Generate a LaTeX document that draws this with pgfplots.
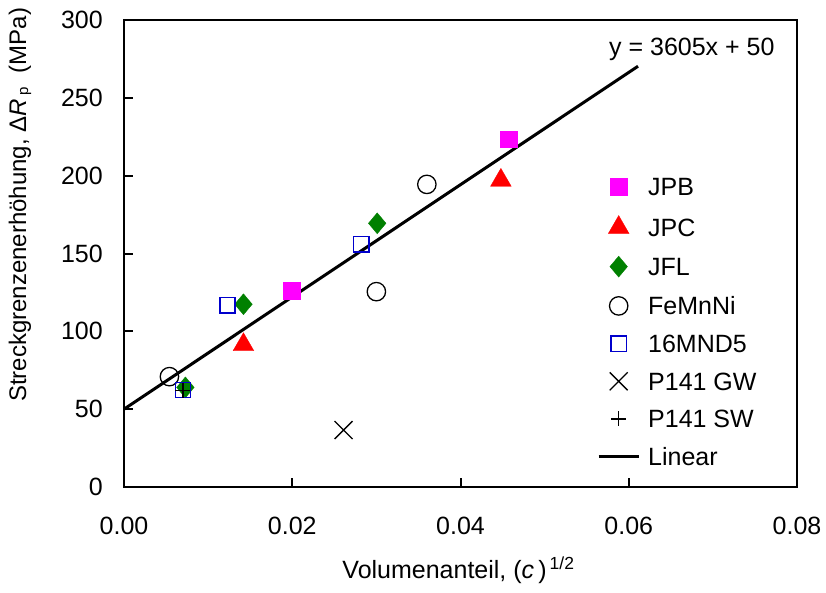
\documentclass[border=0pt]{standalone}
\usepackage{pgfplots}
\pgfplotsset{compat=1.18}
\usepackage{fontspec}
\setmainfont{Liberation Sans}

\definecolor{jpb}{RGB}{255,0,255}
\definecolor{jpc}{RGB}{255,0,0}
\definecolor{jfl}{RGB}{0,128,0}
\definecolor{mnd}{RGB}{0,0,204}

\begin{document}
\begin{tikzpicture}
\useasboundingbox (-124pt,-105pt) rectangle (702pt,487pt);
\begin{axis}[
  width=673pt, height=467pt, scale only axis,
  xmin=0, xmax=0.08, ymin=0, ymax=300,
  scaled x ticks=false, scaled y ticks=false,
  xtick={0,0.02,0.04,0.06,0.08},
  xticklabels={0.00,0.02,0.04,0.06,0.08},
  ytick={0,50,100,150,200,250,300},
  yticklabels={0,50,100,150,200,250,300},
  tick align=inside, tick pos=left,
  major tick length=9pt,
  axis line style={line width=2.6pt},
  every tick/.style={line width=2pt, black},
  ticklabel style={font=\fontsize{25}{25}\selectfont},
  xticklabel style={inner sep=0pt, anchor=north, yshift=-30pt},
  yticklabel style={inner sep=0pt, anchor=east, xshift=-21pt},
  every axis x label/.style={at={(axis description cs:0.497,-0.195)}, anchor=base},
  every axis y label/.style={at={(axis description cs:-0.1545,0.604)}, anchor=center, rotate=90},
  xlabel={\fontsize{25}{25}\selectfont Volumenanteil, (\textit{c}\,)\textsuperscript{\,1/2}},
  ylabel={\fontsize{24}{24}\selectfont Streckgrenzenerhöhung, Δ\textit{R}\,\raisebox{-2pt}{\fontsize{15}{15}\selectfont p}\ \ (MPa)},
  legend image code/.code={\draw[mark repeat=2,mark phase=2,#1] plot coordinates {(0pt,0pt) (20pt,0pt) (40pt,0pt)};},
  legend style={at={(axis description cs:0.7028,0.6623)}, anchor=north west,
    draw=none, fill=none, inner sep=0pt, row sep=19.6pt,
    font=\fontsize{25}{25}\selectfont,
    nodes={inner sep=0pt, text height=18pt, text depth=0pt},
    /tikz/every odd column/.append style={column sep=8pt}},
  legend cell align=left,
]
% JPB
\addplot[only marks, mark=square*, mark size=8.3pt, color=jpb, mark options={fill=jpb, draw=jpb, line width=0.3pt}]
  coordinates {(0.0199,126.3) (0.0457,223.5)};
\addlegendentry{JPB}
% JPC
\addplot[only marks, mark=triangle*, mark size=12pt, color=jpc, mark options={fill=jpc, draw=jpc, line width=0.3pt}]
  coordinates {(0.0142,91.4) (0.0448,197)};
\addlegendentry{JPC}
% JFL
\addplot[only marks, mark=diamond*, mark size=10.5pt, color=jfl, mark options={fill=jfl, draw=jfl, line width=0.3pt, xscale=1.12}]
  coordinates {(0.0073,64.0) (0.0142,117.4) (0.0301,169.4)};
\addlegendentry{JFL}
% FeMnNi
\addplot[only marks, mark=o, mark size=9.2pt, color=black, mark options={line width=1.3pt}]
  coordinates {(0.0054,70.9) (0.0300,125.5) (0.0360,194.4)};
\addlegendentry{FeMnNi}
% 16MND5
\addplot[only marks, mark=square, mark size=7.6pt, color=mnd, mark options={line width=1.5pt}]
  coordinates {(0.0070,62.3) (0.0123,116.7) (0.0282,155.9)};
\addlegendentry{16MND5}
% P141 GW
\addplot[only marks, mark=x, mark size=12.7pt, color=black, mark options={line width=1.3pt}]
  coordinates {(0.0261,36.6)};
\addlegendentry{P141 GW}
% P141 SW
\addplot[only marks, mark=+, mark size=7.5pt, color=black, mark options={line width=1.3pt}]
  coordinates {(0.0070,62.0)};
\addlegendentry{P141 SW}
% linear fit y = 3605x + 50
\addplot[black, line width=3pt, no marks]
  coordinates {(0,50) (0.0611,270.3)};
\addlegendentry{Linear}
\node[font=\fontsize{25}{25}\selectfont, anchor=center] at (axis cs:0.0675,281) {y = 3605x + 50};
\end{axis}
\end{tikzpicture}
\end{document}
